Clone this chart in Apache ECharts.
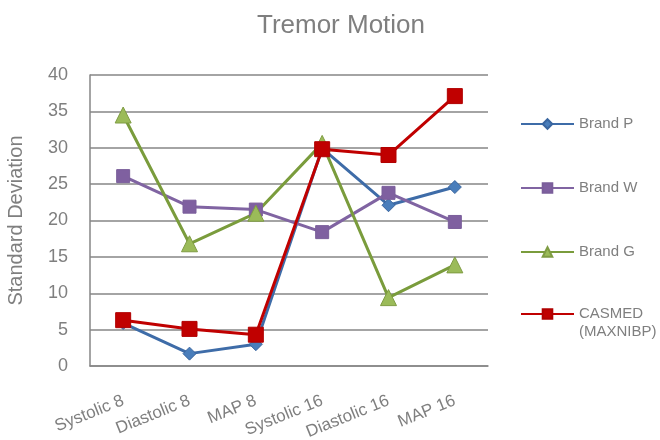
<!DOCTYPE html>
<html>
<head>
<meta charset="utf-8">
<script src="https://cdn.jsdelivr.net/npm/echarts@6/dist/echarts.min.js"></script>
<style>
  html, body { margin: 0; padding: 0; background: #fff; }
  #chart { width: 660px; height: 440px; }
</style>
</head>
<body>
<div id="chart"></div>
<script>
// Measurement categories
const categories = ['Systolic 8', 'Diastolic 8', 'MAP 8', 'Systolic 16', 'Diastolic 16', 'MAP 16'];

// Standard deviation of each device under tremor motion
const brandP = [5.9, 1.7, 3.0, 29.9, 22.1, 24.6];
const brandW = [26.1, 21.9, 21.5, 18.4, 23.8, 19.8];
const brandG = [34.5, 16.8, 21.0, 30.6, 9.4, 13.9];
const casmed = [6.3, 5.1, 4.3, 29.8, 29.0, 37.1];

const yTicks = { min: 0, max: 40, interval: 5 };

const gridColor = '#868686';
const textColor = '#7f7f7f';
const font = 'Liberation Sans, Arial, sans-serif';
const casmedName = 'CASMED\n(MAXNIBP)';

function lineSeries(name, data, color, symbol, size, markerFill, markerBorder) {
  return {
    name: name,
    type: 'line',
    data: data,
    symbol: symbol,
    symbolSize: size,
    lineStyle: { color: color, width: 3 },
    itemStyle: { color: markerFill, borderColor: markerBorder, borderWidth: 1 },
    emphasis: { disabled: true },
    z: 3
  };
}

const legendBase = {
  orient: 'vertical',
  left: 520,
  padding: 0,
  itemWidth: 53,
  itemHeight: 12,
  itemGap: 46,
  textStyle: { fontFamily: font, fontSize: 15, color: textColor, lineHeight: 18 }
};

const chart = echarts.init(document.getElementById('chart'), null, { renderer: 'canvas' });
chart.setOption({
  animation: false,
  backgroundColor: '#ffffff',
  title: {
    text: 'Tremor Motion',
    left: 336,
    textAlign: 'center',
    top: 8,
    textStyle: { fontFamily: font, fontSize: 26, fontWeight: 'normal', color: textColor }
  },
  grid: { left: 90, right: 172, top: 75, bottom: 74, outerBoundsMode: 'none' },
  legend: [
    Object.assign({}, legendBase, {
      top: 115,
      data: ['Brand P', 'Brand W', 'Brand G']
    }),
    Object.assign({}, legendBase, {
      top: 287,
      // a blank leading line keeps the first text line level with the key
      formatter: function (name) { return '\n' + name; },
      data: [casmedName]
    })
  ],
  xAxis: {
    type: 'category',
    data: categories,
    boundaryGap: true,
    axisLine: { lineStyle: { color: gridColor, width: 1.5 } },
    axisTick: { show: false },
    axisLabel: {
      rotate: 22,
      margin: 34,
      interval: 0,
      fontFamily: font,
      fontSize: 17,
      color: textColor
    }
  },
  yAxis: {
    type: 'value',
    min: yTicks.min,
    max: yTicks.max,
    interval: yTicks.interval,
    name: 'Standard Deviation',
    nameLocation: 'middle',
    nameGap: 64,
    nameTextStyle: { fontFamily: font, fontSize: 20, color: textColor },
    axisLine: { show: true, lineStyle: { color: gridColor, width: 1.5 } },
    axisTick: { show: false },
    axisLabel: { margin: 22, fontFamily: font, fontSize: 18, color: textColor },
    splitLine: { lineStyle: { color: gridColor, width: 1.5 } }
  },
  series: [
    lineSeries('Brand P', brandP, '#3e6ca8', 'diamond', 13, '#4a7ebb', '#3a66a0'),
    lineSeries('Brand W', brandW, '#8064a2', 'rect', 13, '#7f60a0', '#7a5e9a'),
    lineSeries('Brand G', brandG, '#7a9c3c', 'triangle', 16, '#9bbb59', '#7f9c43'),
    lineSeries(casmedName, casmed, '#c00000', 'rect', 15, '#c00000', '#b00000')
  ]
});
</script>
</body>
</html>
